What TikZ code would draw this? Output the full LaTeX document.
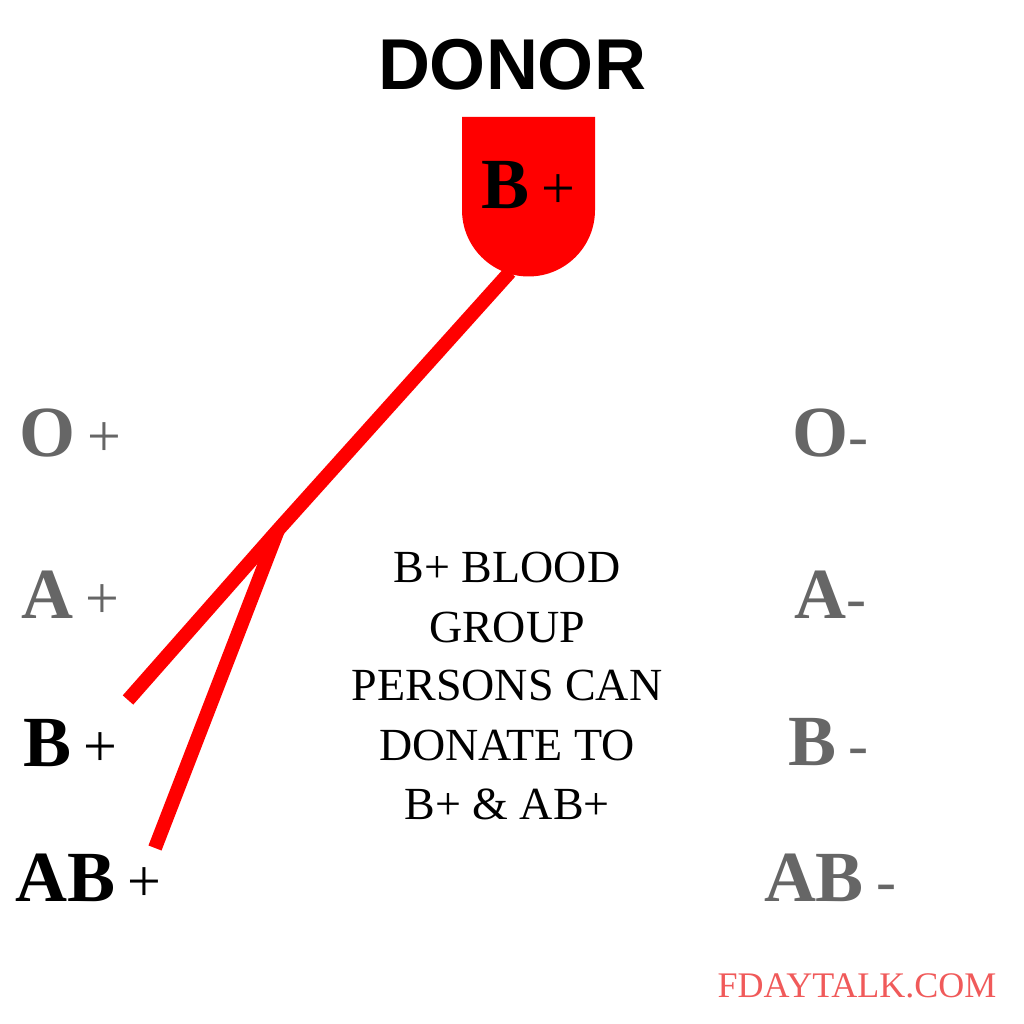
\documentclass[tikz,border=0pt]{standalone}
\usepackage{fontspec}
\setmainfont{Liberation Serif}
\newfontfamily\donorfont{Liberation Sans}
\definecolor{bred}{HTML}{FF0000}
\definecolor{gr}{HTML}{666666}
\definecolor{salmon}{HTML}{F05A5A}
\newcommand{\lbl}[2]{\fontsize{72}{72}\selectfont\bfseries #1\mdseries\fontsize{60}{60}\selectfont#2}
\begin{document}
\begin{tikzpicture}[x=1pt,y=1pt,
 mid/.style={font=\fontsize{46}{59}\selectfont,align=center}]
\useasboundingbox (0,0) rectangle (1024,1024);
\node (donor) at (512,959) {\donorfont\fontsize{72}{72}\selectfont\bfseries DONOR};
\fill[bred] (462,907) -- (595,907) -- (595,814) arc[start angle=0,end angle=-180,radius=66.5] -- cycle;
\node (bag) at (528,839) {\lbl{B\,}{+}};
\coordinate (top) at (510,752);
\coordinate (j) at (278,494);
\coordinate (e1) at (128,324);
\coordinate (e2) at (155,176);
\draw[bred,line width=14pt] (top) -- (j) -- (e1);
\draw[bred,line width=14pt] (j) -- (e2);
\node[gr] (op) at (70,591) {\lbl{O\,}{+}};
\node[gr] (ap) at (70,429) {\lbl{A\,}{+}};
\node (bp) at (70,281) {\lbl{B\,}{+}};
\node (abp) at (88,146) {\lbl{AB\,}{+}};
\node[gr] (om) at (830,591) {\lbl{O}{-}};
\node[gr] (am) at (830,429) {\lbl{A}{-}};
\node[gr] (bm) at (828,282) {\lbl{B\,}{-}};
\node[gr] (abm) at (830,146) {\lbl{AB\,}{-}};
\node[mid] (txt) at (507,338) {B+ BLOOD\\GROUP\\PERSONS CAN\\DONATE TO\\B+ \& AB+};
\node[salmon] (site) at (857,38) {\fontsize{36}{36}\selectfont FDAYTALK.COM};
\end{tikzpicture}
\end{document}
